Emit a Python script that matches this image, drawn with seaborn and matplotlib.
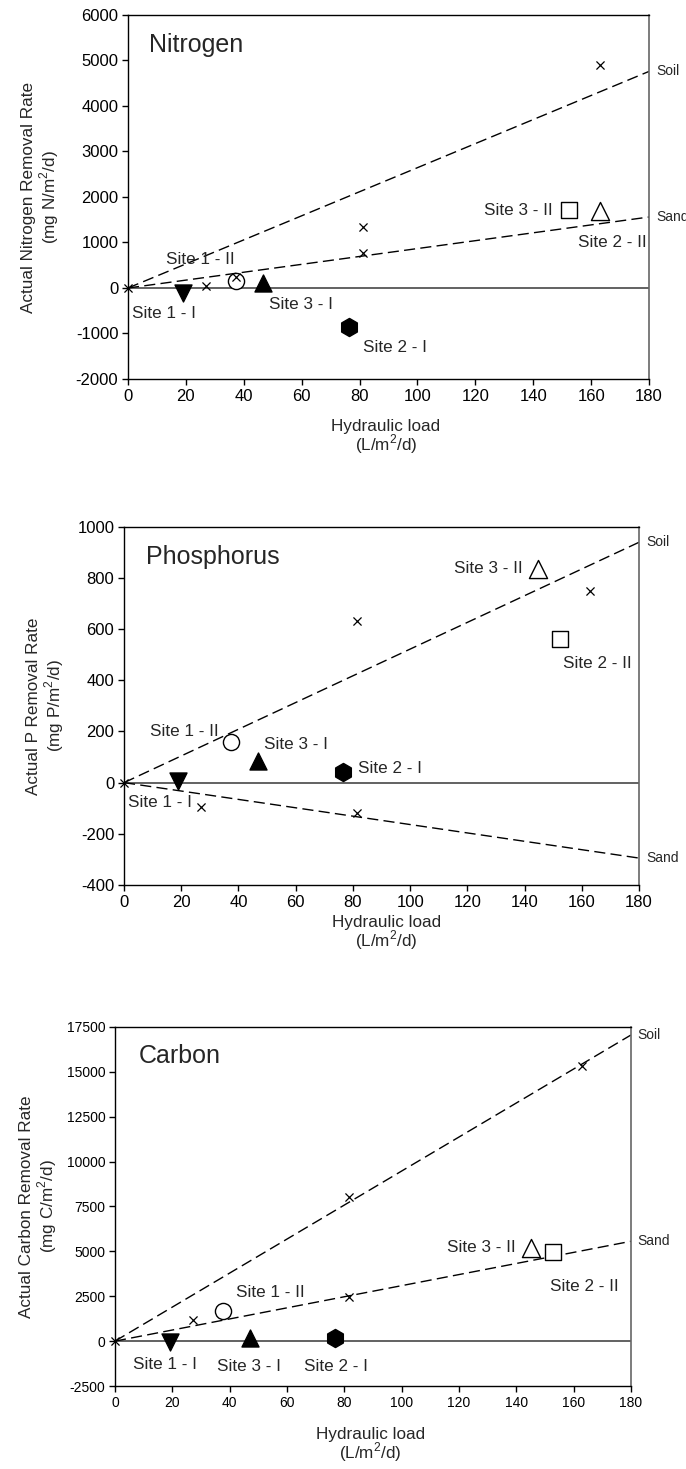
import matplotlib
matplotlib.use("Agg")
import matplotlib.pyplot as plt
import seaborn as sns

# Datos: carga hidraulica (L/m2/d) y tasa de remocion
sitios = ["Site 1 - I", "Site 1 - II", "Site 3 - I", "Site 2 - I", "Site 2 - II", "Site 3 - II"]

# Nitrogeno
n_sitio_x = [19, 37.3, 46.8, 76.5, 152.3, 162.9]
n_sitio_y = [-100, 160, 100, -850, 1720, 1700]
n_col_x = [0, 27, 37.3, 81.3, 81.3, 163]
n_col_y = [0, 40, 235, 770, 1350, 4900]
n_suelo = [0, 4760]
n_arena = [0, 1560]

# Fosforo
p_sitio_x = [18.9, 37.4, 46.9, 76.4, 152.4, 144.7]
p_sitio_y = [5, 160, 85, 42, 560, 835]
p_col_x = [0, 27, 81.3, 81.3, 162.8]
p_col_y = [0, -94, 632, -117, 748]
p_suelo = [0, 940]
p_arena = [0, -295]

# Carbono
c_sitio_x = [19.1, 37.8, 47.1, 76.7, 152.7, 145.2]
c_sitio_y = [-50, 1700, 200, 200, 4950, 5200]
c_col_x = [0, 27.2, 81.6, 81.6, 162.9]
c_col_y = [0, 1150, 8050, 2450, 15350]
c_suelo = [0, 17050]
c_arena = [0, 5560]

linea_x = [0, 180]
x_ticks = list(range(0, 181, 20))

# Estilo de marcador por sitio: (marcador, relleno, tamano)
marcadores = {
    "Site 1 - I": ("v", "black", 150),
    "Site 1 - II": ("o", "white", 135),
    "Site 3 - I": ("^", "black", 150),
    "Site 2 - I": ("h", "black", 170),
    "Site 2 - II": ("s", "white", 125),
    "Site 3 - II": ("^", "white", 170),
}

sns.set_style("ticks")
plt.rcParams["font.family"] = ["Liberation Sans", "DejaVu Sans"]
plt.rcParams["axes.unicode_minus"] = False
plt.rcParams["mathtext.fontset"] = "custom"
plt.rcParams["mathtext.rm"] = "Liberation Sans"


def dibujar(ax, sx, sy, cx, cy, suelo, arena, yticks, titulo, ylabel,
            etiquetas, tick_size, ylab_x, xlab_y, xlab_x, titulo_pos):
    ax.axhline(0, color="#555555", lw=1.3, zorder=1)
    for fin in (suelo, arena):
        sns.lineplot(x=linea_x, y=fin, ax=ax, color="black", lw=1,
                     errorbar=None, zorder=2)
        ax.lines[-1].set_dashes([8, 3.8])
    ax.annotate("Soil", xy=(180, suelo[1]), xytext=(5, 0), textcoords="offset points",
                va="center", ha="left", fontsize=10, annotation_clip=False)
    ax.annotate("Sand", xy=(180, arena[1]), xytext=(5, 0), textcoords="offset points",
                va="center", ha="left", fontsize=10, annotation_clip=False)

    for nombre, x, y in zip(sitios, sx, sy):
        m, relleno, s = marcadores[nombre]
        sns.scatterplot(x=[x], y=[y], marker=m, s=s, color=relleno,
                        edgecolor="black", linewidth=1, ax=ax, zorder=3)
    sns.scatterplot(x=cx, y=cy, marker="x", s=34, color="black", linewidth=0.9,
                    ax=ax, zorder=4, clip_on=False)

    for nombre, (tx, ty) in etiquetas.items():
        ax.text(tx, ty, nombre, ha="center", va="center", fontsize=12.3)

    ax.text(titulo_pos[0], titulo_pos[1], titulo, transform=ax.transAxes,
            ha="left", va="center", fontsize=18)

    ax.set_xlim(0, 180)
    ax.set_ylim(yticks[0], yticks[-1])
    ax.set_xticks(x_ticks)
    ax.set_yticks(yticks)
    ax.tick_params(direction="out", length=4, width=1, labelsize=tick_size,
                   colors="black", pad=3)
    for lado in ("left", "bottom", "top"):
        ax.spines[lado].set_color("black")
        ax.spines[lado].set_linewidth(1)
    ax.spines["right"].set_color("#666666")
    ax.spines["right"].set_linewidth(1.2)

    ax.set_ylabel(ylabel, fontsize=12.3, linespacing=1.1)
    ax.yaxis.set_label_coords(ylab_x, 0.5)
    ax.set_xlabel("Hydraulic load\n(L/m$^2$/d)", fontsize=12.3, linespacing=0.9)
    ax.xaxis.set_label_coords(xlab_x, xlab_y)


fig = plt.figure(figsize=(6.86, 14.69), dpi=100)

ax1 = fig.add_axes([0.1866, 0.742, 0.7595, 0.2478])
dibujar(ax1, n_sitio_x, n_sitio_y, n_col_x, n_col_y, n_suelo, n_arena,
        list(range(-2000, 6001, 1000)), "Nitrogen",
        "Actual Nitrogen Removal Rate\n(mg N/m$^2$/d)",
        {"Site 1 - I": (12.5, -571), "Site 1 - II": (24.9, 637),
         "Site 3 - I": (59.8, -352), "Site 2 - I": (92.3, -1297),
         "Site 2 - II": (167.3, 1010), "Site 3 - II": (134.8, 1714)},
        12, -0.128, -0.11, 0.495, (0.040, 0.918))

ax2 = fig.add_axes([0.1808, 0.3976, 0.7507, 0.2437])
dibujar(ax2, p_sitio_x, p_sitio_y, p_col_x, p_col_y, p_suelo, p_arena,
        list(range(-400, 1001, 200)), "Phosphorus",
        "Actual P Removal Rate\n(mg P/m$^2$/d)",
        {"Site 1 - I": (12.7, -78), "Site 1 - II": (20.9, 199),
         "Site 3 - I": (60.2, 148), "Site 2 - I": (93, 55),
         "Site 2 - II": (165.4, 466), "Site 3 - II": (127.4, 838)},
        12, -0.112, -0.085, 0.509, (0.043, 0.916))

ax3 = fig.add_axes([0.1676, 0.0565, 0.752, 0.2444])
dibujar(ax3, c_sitio_x, c_sitio_y, c_col_x, c_col_y, c_suelo, c_arena,
        list(range(-2500, 17501, 2500)), "Carbon",
        "Actual Carbon Removal Rate\n(mg C/m$^2$/d)",
        {"Site 1 - I": (17.4, -1300), "Site 1 - II": (54.2, 2700),
         "Site 3 - I": (46.9, -1390), "Site 2 - I": (77, -1390),
         "Site 2 - II": (163.6, 3064), "Site 3 - II": (127.7, 5240)},
        10, -0.108, -0.115, 0.495, (0.047, 0.919))

fig.savefig("out.png", dpi=100, facecolor="white")
